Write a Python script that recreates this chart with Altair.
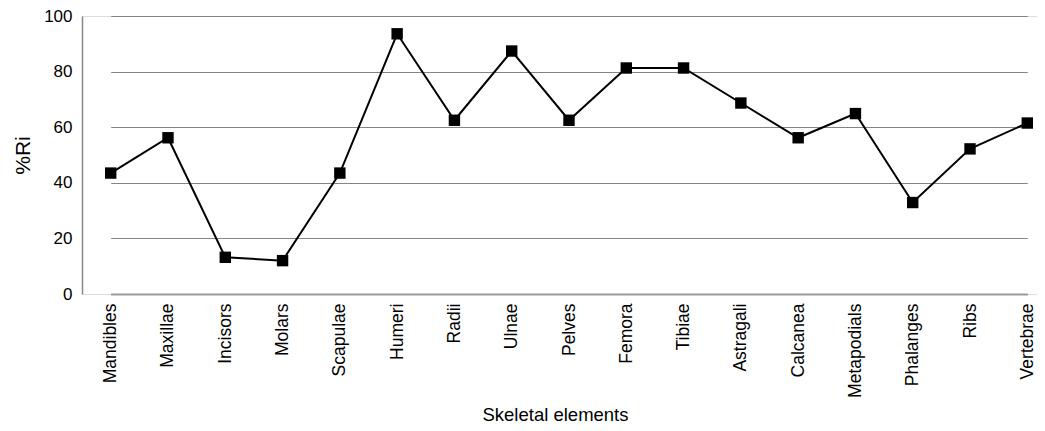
import altair as alt
import pandas as pd

elements = ["Mandibles", "Maxillae", "Incisors", "Molars", "Scapulae", "Humeri",
            "Radii", "Ulnae", "Pelves", "Femora", "Tibiae", "Astragali",
            "Calcanea", "Metapodials", "Phalanges", "Ribs", "Vertebrae"]
ri = [43.5, 56.2, 13.2, 12.0, 43.5, 93.6, 62.5, 87.4, 62.5, 81.3, 81.3, 68.7,
      56.2, 64.9, 32.9, 52.2, 61.5]
y_ticks = [0, 20, 40, 60, 80, 100]

df = pd.DataFrame({"element": elements, "ri": ri})

FONT = "Liberation Sans"

x = alt.X("element:N", sort=elements, title="Skeletal elements",
          scale=alt.Scale(type="point", range=[28.7, 945.3], padding=0),
          axis=alt.Axis(labelAngle=270, labelAlign="right", labelBaseline="middle",
                        labelPadding=9, ticks=False, domainColor="#999999",
                        domainWidth=2, labelFontSize=17.5, titleFontSize=18.5,
                        titleY=126, titleX=473, titleBaseline="alphabetic",
                        labelColor="#000000", titleColor="#000000",
                        titleFontWeight="normal", labelFont=FONT, titleFont=FONT))
y = alt.Y("ri:Q", title="%Ri",
          scale=alt.Scale(domain=[0, 100], nice=False),
          axis=alt.Axis(values=y_ticks, ticks=False, labelPadding=10,
                        domainColor="#888888", domainWidth=1.5,
                        gridColor="#858585", gridWidth=1, gridOpacity=1,
                        labelFontSize=17, titleFontSize=21, titlePadding=10,
                        labelColor="#000000", titleColor="#000000",
                        titleFontWeight="normal", labelFont=FONT, titleFont=FONT))

line = alt.Chart(df).mark_line(color="#000000", strokeWidth=2).encode(x=x, y=y)
pts = alt.Chart(df).mark_point(shape="square", filled=True, color="#000000",
                               size=130, opacity=1).encode(x=x, y=y)

chart = (line + pts).properties(
    width=955, height=278,
    autosize=alt.AutoSizeParams(type="none"),
    padding={"left": 74, "top": 8, "right": 0, "bottom": 129},
).configure_view(stroke=None).configure(background="#ffffff")

chart.save("out.html", embed_options={"renderer": "svg", "actions": False})
